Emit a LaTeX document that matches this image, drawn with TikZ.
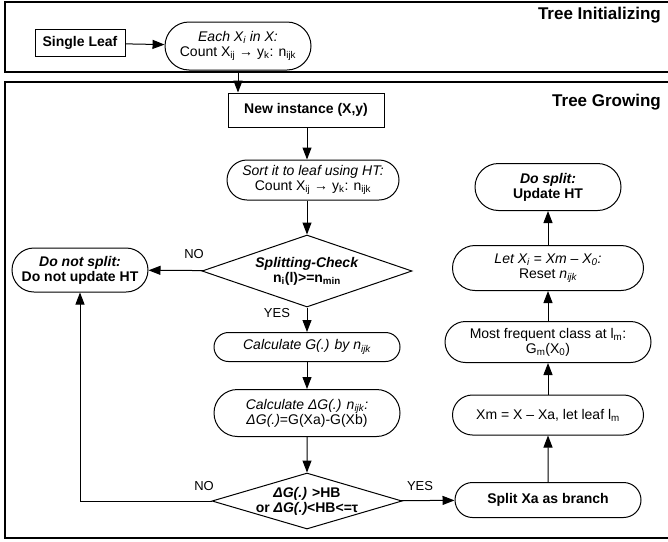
\documentclass[tikz,border=0pt]{standalone}
\usepackage{fontspec}
\setmainfont{Liberation Sans}
\usetikzlibrary{arrows.meta,shapes.misc,shapes.geometric}

\begin{document}
\begin{tikzpicture}[x=1pt,y=-1pt,>={Triangle[length=12pt,width=9pt]},line width=1pt,
        box/.style={draw, rectangle, inner sep=2pt, font=\bfseries},
        pill/.style={draw, rounded rectangle, align=center, inner sep=2pt},
        check/.style={draw, diamond, inner sep=0pt},
        checktext/.style={align=center, inner sep=0pt, font=\bfseries},
        panel/.style={draw, line width=1.2pt},
        title/.style={anchor=east, font=\fontsize{17}{20}\selectfont\bfseries},
        lbl/.style={font=\fontsize{13}{15}\selectfont}]
        \fontsize{14}{15}\selectfont
        \useasboundingbox (0,0) rectangle (668,541);
        \clip (0,0) rectangle (668,541);
        % Panels
        \draw[panel] (5,2) rectangle (700,72);
        \draw[panel] (5,82) rectangle (700,538);
        \node[title] (tinit) at (666,15) {Tree Initializing};
        \node[title] (tgrow) at (666,102) {Tree Growing};
        % Nodes
        \node[box, minimum width=90pt, minimum height=27pt] (leaf) at (80,43) {Single Leaf};
        \node[pill, minimum width=150pt, minimum height=48pt] (each) at (238,46)
            {\textit{Each X\textsubscript{i} in X:}\\Count X\textsubscript{ij} → y\textsubscript{k}: n\textsubscript{ijk}};
        \node[box, minimum width=156pt, minimum height=34pt] (new) at (306,110) {New instance (X,y)};
        \node[pill, minimum width=176pt, minimum height=40pt] (sort) at (313,180)
            {\textit{Sort it to leaf using HT:}\\Count X\textsubscript{ij} → y\textsubscript{k}: n\textsubscript{ijk}};
        \node[check, minimum width=210pt, minimum height=72pt] (split) at (307,271) {};
        \node[checktext] (splittext) at (split) {\textit{Splitting-Check}\\n\textsubscript{i}(l)>=n\textsubscript{min}};
        \node[pill, font=\bfseries, minimum width=140pt, minimum height=44pt] (nosplit) at (80,270)
            {\textit{Do not split:}\\Do not update HT};
        \node[pill, minimum width=190pt, minimum height=29pt] (calcg) at (307,347)
            {\textit{Calculate G(.) by n\textsubscript{ijk}}};
        \node[pill, minimum width=190pt, minimum height=47pt] (calcdg) at (307,413)
            {\textit{Calculate ΔG(.) n\textsubscript{ijk}:}\\\textit{ΔG(.)}=G(Xa)-G(Xb)};
        \node[check, minimum width=190pt, minimum height=56pt] (hb) at (307,501) {};
        \node[checktext] (hbtext) at (hb) {\textit{ΔG(.)} >HB\\or \textit{ΔG(.)}<HB<=τ};
        \node[pill, font=\bfseries, minimum width=190pt, minimum height=35pt] (branch) at (548,500)
            {Split Xa as branch};
        \node[pill, minimum width=195pt, minimum height=40pt] (xm) at (548,415)
            {Xm = X – Xa, let leaf l\textsubscript{m}};
        \node[pill, minimum width=210pt, minimum height=41pt] (freq) at (548,342)
            {Most frequent class at l\textsubscript{m}:\\G\textsubscript{m}(X\textsubscript{0})};
        \node[pill, minimum width=195pt, minimum height=45pt] (letx) at (548,268)
            {\textit{Let X\textsubscript{i} = Xm – X\textsubscript{0}:}\\Reset \textit{n\textsubscript{ijk}}};
        \node[pill, font=\bfseries, minimum width=150pt, minimum height=47pt] (dosplit) at (548,187)
            {\textit{Do split:}\\Update HT};
        % Labels
        \node[lbl] (no1) at (194,254) {NO};
        \node[lbl] (yes1) at (277,313) {YES};
        \node[lbl] (no2) at (204,486) {NO};
        \node[lbl] (yes2) at (420,486) {YES};
        % Arrows
        \draw[->] (leaf) -- (each);
        \draw[->] (each.south) -- (each.south |- new.north);
        \draw[->] (new.south -| split) -- (split |- sort.north);
        \draw[->] (sort.south -| split) -- (split.north);
        \draw[->] (split) -- (nosplit);
        \draw[->] (split) -- (calcg);
        \draw[->] (calcg) -- (calcdg);
        \draw[->] (calcdg) -- (hb);
        \draw[->] (hb.west) -| (nosplit.south);
        \draw[->] (hb) -- (branch);
        \draw[->] (branch) -- (xm);
        \draw[->] (xm) -- (freq);
        \draw[->] (freq) -- (letx);
        \draw[->] (letx) -- (dosplit);
\end{tikzpicture}
\end{document}
